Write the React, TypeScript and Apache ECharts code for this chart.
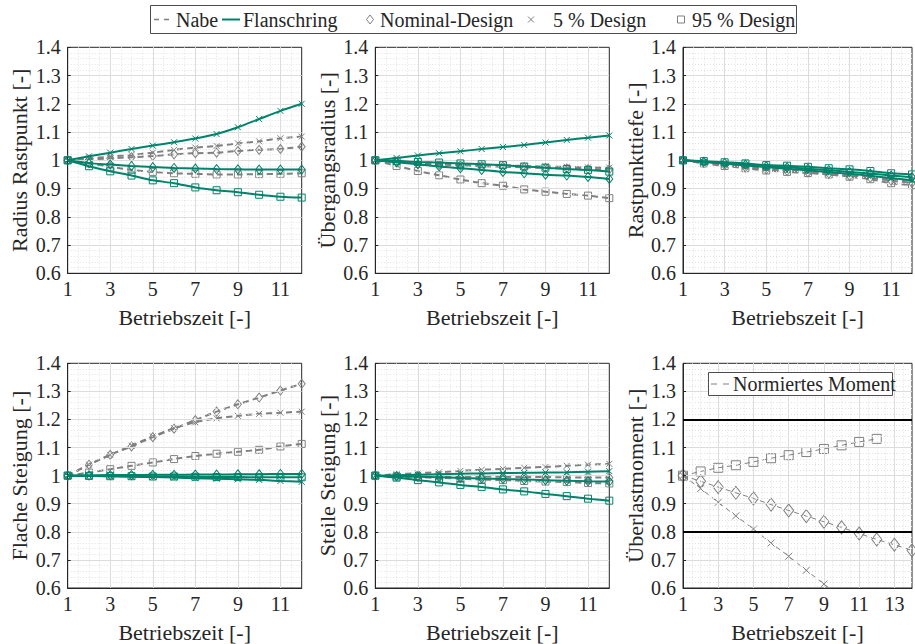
import React, { useEffect, useRef } from 'react';
import * as echarts from 'echarts';

// ---------- data ----------
const betriebszeit = [1, 2, 3, 4, 5, 6, 7, 8, 9, 10, 11, 12];
const betriebszeitMoment = [1, 2, 3, 4, 5, 6, 7, 8, 9, 10, 11, 12, 13, 14];

// Radius Rastpunkt
const rrNabeNom = [1, 1.003, 1.007, 1.011, 1.015, 1.021, 1.025, 1.027, 1.033, 1.037, 1.04, 1.048];
const rrNabe5 = [1, 1.007, 1.013, 1.019, 1.027, 1.037, 1.045, 1.051, 1.06, 1.067, 1.078, 1.084];
const rrNabe95 = [1, 0.989, 0.977, 0.966, 0.959, 0.954, 0.952, 0.95, 0.95, 0.951, 0.952, 0.954];
const rrFlNom = [1, 0.99, 0.985, 0.98, 0.976, 0.973, 0.971, 0.969, 0.968, 0.967, 0.967, 0.967];
const rrFl5 = [1, 1.014, 1.027, 1.04, 1.052, 1.064, 1.077, 1.093, 1.117, 1.146, 1.175, 1.2];
const rrFl95 = [1, 0.979, 0.961, 0.946, 0.929, 0.919, 0.904, 0.894, 0.887, 0.878, 0.871, 0.868];

// Übergangsradius
const urNabeNom = [1, 0.993, 0.988, 0.985, 0.982, 0.979, 0.977, 0.975, 0.973, 0.971, 0.969, 0.968];
const urNabe5 = [1, 0.996, 0.992, 0.989, 0.986, 0.984, 0.982, 0.98, 0.978, 0.977, 0.975, 0.974];
const urNabe95 = [1, 0.98, 0.962, 0.947, 0.932, 0.919, 0.91, 0.897, 0.889, 0.881, 0.875, 0.866];
const urFlNom = [1, 0.993, 0.986, 0.978, 0.972, 0.966, 0.959, 0.954, 0.949, 0.946, 0.941, 0.934];
const urFl5 = [1, 1.008, 1.017, 1.025, 1.032, 1.04, 1.047, 1.054, 1.063, 1.072, 1.08, 1.088];
const urFl95 = [1, 0.998, 0.994, 0.992, 0.989, 0.986, 0.983, 0.978, 0.974, 0.969, 0.966, 0.96];

// Rastpunkttiefe
const rtNabeNom = [1, 0.991, 0.983, 0.975, 0.968, 0.962, 0.957, 0.952, 0.945, 0.938, 0.928, 0.92];
const rtNabe5 = [1, 0.992, 0.985, 0.978, 0.971, 0.965, 0.96, 0.955, 0.948, 0.942, 0.934, 0.927];
const rtNabe95 = [1, 0.989, 0.98, 0.972, 0.964, 0.959, 0.955, 0.95, 0.942, 0.933, 0.919, 0.912];
const rtFlNom = [1, 0.995, 0.99, 0.985, 0.979, 0.975, 0.97, 0.965, 0.959, 0.953, 0.946, 0.94];
const rtFl5 = [1, 0.994, 0.988, 0.982, 0.976, 0.97, 0.964, 0.958, 0.952, 0.945, 0.937, 0.929];
const rtFl95 = [1, 0.997, 0.993, 0.989, 0.983, 0.981, 0.977, 0.972, 0.968, 0.962, 0.954, 0.95];

// Flache Steigung
const fsNabeNom = [1, 1.039, 1.074, 1.104, 1.137, 1.167, 1.198, 1.228, 1.254, 1.278, 1.303, 1.327];
const fsNabe5 = [1, 1.039, 1.074, 1.107, 1.14, 1.169, 1.19, 1.204, 1.213, 1.22, 1.224, 1.228];
const fsNabe95 = [1, 1.011, 1.023, 1.035, 1.047, 1.059, 1.07, 1.078, 1.085, 1.092, 1.104, 1.113];
const fsFlNom = [1, 1.001, 1.002, 1.002, 1.003, 1.003, 1.004, 1.004, 1.005, 1.005, 1.006, 1.006];
const fsFl5 = [1, 0.999, 0.998, 0.996, 0.995, 0.993, 0.991, 0.989, 0.987, 0.985, 0.981, 0.978];
const fsFl95 = [1, 0.999, 0.998, 0.998, 0.997, 0.997, 0.996, 0.995, 0.995, 0.994, 0.994, 0.994];

// Steile Steigung
const ssNabeNom = [1, 0.999, 0.999, 0.998, 0.997, 0.997, 0.996, 0.995, 0.995, 0.994, 0.993, 0.993];
const ssNabe5 = [1, 1.005, 1.009, 1.012, 1.017, 1.021, 1.024, 1.028, 1.031, 1.035, 1.039, 1.042];
const ssNabe95 = [1, 0.997, 0.994, 0.992, 0.989, 0.986, 0.984, 0.981, 0.979, 0.977, 0.974, 0.972];
const ssFlNom = [1, 0.998, 0.996, 0.994, 0.992, 0.99, 0.988, 0.986, 0.984, 0.982, 0.98, 0.979];
const ssFl5 = [1, 1.001, 1.003, 1.005, 1.007, 1.008, 1.009, 1.01, 1.011, 1.012, 1.014, 1.016];
const ssFl95 = [1, 0.993, 0.984, 0.976, 0.967, 0.96, 0.951, 0.944, 0.935, 0.927, 0.918, 0.911];

// Überlastmoment
const momentNom = [1, 0.98, 0.959, 0.939, 0.919, 0.897, 0.876, 0.856, 0.836, 0.816, 0.794, 0.773, 0.754, 0.734];
const moment5 = [1, 0.954, 0.905, 0.857, 0.81, 0.76, 0.713, 0.663, 0.614, 0.565];
const moment95 = [1, 1.015, 1.028, 1.037, 1.049, 1.062, 1.073, 1.084, 1.095, 1.108, 1.12, 1.131];
const momentGrenzen = [1.2, 0.8];

const yAxisNames = [
  'Radius Rastpunkt [-]',
  'Übergangsradius [-]',
  'Rastpunkttiefe [-]',
  'Flache Steigung [-]',
  'Steile Steigung [-]',
  'Überlastmoment [-]',
];
const xAxisName = 'Betriebszeit [-]';
const legendLabels = ['Nabe', 'Flanschring', 'Nominal-Design', '5 % Design', '95 % Design'];
const momentLegendLabel = 'Normiertes Moment';

// ---------- styling ----------
const FONT = 'Liberation Serif';
const GREEN = '#00836b';
const GRAY = '#808080';
const TXT = '#262626';
const MAJOR = '#dcdcdc';
const MINOR = '#e2e2e2';
const X_PATH = 'path://M0,0L10,10M10,0L0,10';

const LEFTS = [67.7, 375.3, 683];
const TOPS = [47.3, 363.3];
const HEIGHTS = [226, 225];
const PW = 234;

type Kind = 'nom' | 'p5' | 'p95';

function symbolFor(kind: Kind, big: boolean) {
  if (kind === 'nom') return { symbol: 'diamond', symbolSize: big ? [10, 13] : [7, 9] };
  if (kind === 'p5') return { symbol: X_PATH, symbolSize: big ? 7 : 6 };
  return { symbol: 'rect', symbolSize: big ? 9 : 7 };
}

function mkSeries(gi: number, xs: number[], vals: number[], kind: Kind, color: string, dashed: boolean, thin = false) {
  const s = symbolFor(kind, thin);
  return {
    type: 'line',
    xAxisIndex: gi * 2,
    yAxisIndex: gi,
    data: vals.map((v, i) => [xs[i], v]),
    symbol: s.symbol,
    symbolSize: s.symbolSize,
    showAllSymbol: true,
    smooth: thin ? false : 0.3,
    itemStyle: { color: 'rgba(0,0,0,0)', borderColor: color, borderWidth: 1 },
    lineStyle: { color, width: thin ? 1 : 2, type: dashed ? (thin ? [5, 4] : [6, 4]) : 'solid' },
    emphasis: { disabled: true },
    z: dashed ? 2 : 3,
  };
}

function textEl(text: string, x: number, y: number, size = 20) {
  return {
    type: 'text',
    x,
    y,
    z: 20,
    style: {
      text,
      fill: TXT,
      fontFamily: FONT,
      fontSize: size,
      align: 'left',
      verticalAlign: 'middle',
      textAlign: 'left',
      textVerticalAlign: 'middle',
    },
  };
}

function diamondEl(cx: number, cy: number, w: number, h: number, color: string) {
  return {
    type: 'polygon',
    z: 20,
    shape: { points: [[cx, cy - h / 2], [cx + w / 2, cy], [cx, cy + h / 2], [cx - w / 2, cy]] },
    style: { fill: 'none', stroke: color, lineWidth: 1 },
  };
}

function crossEls(cx: number, cy: number, r: number, color: string) {
  return [
    { type: 'line', z: 20, shape: { x1: cx - r, y1: cy - r, x2: cx + r, y2: cy + r }, style: { stroke: color, lineWidth: 1 } },
    { type: 'line', z: 20, shape: { x1: cx + r, y1: cy - r, x2: cx - r, y2: cy + r }, style: { stroke: color, lineWidth: 1 } },
  ];
}

function buildOption() {
  const grids: any[] = [];
  const xAxes: any[] = [];
  const yAxes: any[] = [];
  for (let gi = 0; gi < 6; gi++) {
    const row = Math.floor(gi / 3);
    const col = gi % 3;
    const xmax = gi === 5 ? 14 : 12;
    grids.push({
      left: LEFTS[col],
      top: TOPS[row],
      width: PW,
      height: HEIGHTS[row],
      show: true,
      backgroundColor: '#fff',
      borderColor: TXT,
      borderWidth: 1,
      containLabel: false,
    });
    xAxes.push({
      type: 'value',
      gridIndex: gi,
      min: 1,
      max: xmax,
      interval: 1,
      z: 2,
      name: xAxisName,
      nameLocation: 'middle',
      nameGap: 33,
      nameTextStyle: { fontFamily: FONT, fontSize: 22, color: TXT },
      axisLine: { show: true, onZero: false, lineStyle: { color: TXT, width: 1 } },
      axisTick: { show: false },
      axisLabel: {
        fontFamily: FONT,
        fontSize: 20,
        color: TXT,
        margin: 6,
        formatter: (v: number) => (Math.round(v) % 2 === 1 ? String(Math.round(v)) : ''),
      },
      splitLine: { show: true, lineStyle: { color: [MAJOR, 'rgba(0,0,0,0)'], width: 1 } },
    });
    xAxes.push({
      type: 'value',
      gridIndex: gi,
      min: 1,
      max: xmax,
      interval: 0.5,
      position: 'top',
      z: 1,
      axisLine: { show: false },
      axisTick: { show: false },
      axisLabel: { show: false },
      splitLine: { show: true, showMinLine: false, showMaxLine: false, lineStyle: { color: MINOR, width: 1, type: [1, 2] } },
    });
    yAxes.push({
      type: 'value',
      gridIndex: gi,
      min: 0.6,
      max: 1.4,
      interval: 0.1,
      z: 3,
      name: yAxisNames[gi],
      nameLocation: 'middle',
      nameGap: 37,
      nameTextStyle: { fontFamily: FONT, fontSize: 22, color: TXT },
      axisLine: { show: true, lineStyle: { color: TXT, width: 1 } },
      axisTick: { show: true, inside: true, length: 3, lineStyle: { color: TXT } },
      axisLabel: {
        fontFamily: FONT,
        fontSize: 20,
        color: TXT,
        margin: 7,
        formatter: (v: number) => String(Math.round(v * 10) / 10),
      },
      splitLine: { show: true, showMinLine: false, showMaxLine: false, lineStyle: { color: MAJOR, width: 1 } },
      minorTick: { show: false, splitNumber: 5 },
      minorSplitLine: { show: true, lineStyle: { color: MINOR, width: 1, type: [1, 2] } },
    });
  }

  const panels = [
    { nabe: [rrNabeNom, rrNabe5, rrNabe95], fl: [rrFlNom, rrFl5, rrFl95] },
    { nabe: [urNabeNom, urNabe5, urNabe95], fl: [urFlNom, urFl5, urFl95] },
    { nabe: [rtNabeNom, rtNabe5, rtNabe95], fl: [rtFlNom, rtFl5, rtFl95] },
    { nabe: [fsNabeNom, fsNabe5, fsNabe95], fl: [fsFlNom, fsFl5, fsFl95] },
    { nabe: [ssNabeNom, ssNabe5, ssNabe95], fl: [ssFlNom, ssFl5, ssFl95] },
  ];
  const kinds: Kind[] = ['nom', 'p5', 'p95'];
  const series: any[] = [];
  panels.forEach((p, gi) => {
    p.nabe.forEach((vals, k) => series.push(mkSeries(gi, betriebszeit, vals, kinds[k], GRAY, true)));
    p.fl.forEach((vals, k) => series.push(mkSeries(gi, betriebszeit, vals, kinds[k], GREEN, false)));
  });
  const mNom = mkSeries(5, betriebszeitMoment, momentNom, 'nom', GRAY, true, true);
  const m5 = mkSeries(5, betriebszeitMoment, moment5, 'p5', GRAY, true, true);
  const m95 = mkSeries(5, betriebszeitMoment, moment95, 'p95', GRAY, true, true);
  (m95 as any).markLine = {
    silent: true,
    symbol: 'none',
    label: { show: false },
    lineStyle: { color: '#000', width: 2, type: 'solid' },
    data: momentGrenzen.map((g) => ({ yAxis: g })),
  };
  series.push(mNom, m5, m95);

  // legends
  const ly = 19.5;
  const graphic: any[] = [
    { type: 'rect', z: 19, shape: { x: 150.5, y: 5.5, width: 646, height: 28 }, style: { fill: '#fff', stroke: '#4d4d4d', lineWidth: 1 } },
    { type: 'line', z: 20, shape: { x1: 154, y1: ly, x2: 169, y2: ly }, style: { stroke: GRAY, lineWidth: 1.5, lineDash: [5, 5] } },
    textEl(legendLabels[0], 176, ly),
    { type: 'line', z: 20, shape: { x1: 222, y1: ly, x2: 240, y2: ly }, style: { stroke: GREEN, lineWidth: 2 } },
    textEl(legendLabels[1], 243, ly),
    diamondEl(370, ly, 7, 9, GRAY),
    textEl(legendLabels[2], 380, ly),
    ...crossEls(531, ly, 3, GRAY),
    textEl(legendLabels[3], 553, ly),
    { type: 'rect', z: 20, shape: { x: 677.5, y: ly - 3.5, width: 7, height: 7 }, style: { fill: 'none', stroke: GRAY, lineWidth: 1 } },
    textEl(legendLabels[4], 692, ly),
    // moment legend
    { type: 'rect', z: 19, shape: { x: 708.5, y: 372.5, width: 184, height: 23 }, style: { fill: '#fff', stroke: '#4d4d4d', lineWidth: 1 } },
    { type: 'line', z: 20, shape: { x1: 711, y1: 384, x2: 729, y2: 384 }, style: { stroke: GRAY, lineWidth: 1, lineDash: [6, 6] } },
    textEl(momentLegendLabel, 733, 384),
  ];

  return {
    animation: false,
    backgroundColor: '#fff',
    textStyle: { fontFamily: FONT },
    grid: grids,
    xAxis: xAxes,
    yAxis: yAxes,
    series,
    graphic: { elements: graphic },
  };
}

export default function App() {
  const ref = useRef<HTMLDivElement>(null);
  useEffect(() => {
    if (!ref.current) return;
    const chart = echarts.init(ref.current, undefined, { renderer: 'svg' });
    chart.setOption(buildOption() as any);
    return () => chart.dispose();
  }, []);
  return (
    <div
      ref={ref}
      style={{ position: 'fixed', left: 0, top: 0, width: 915, height: 644, background: '#fff' }}
    />
  );
}
